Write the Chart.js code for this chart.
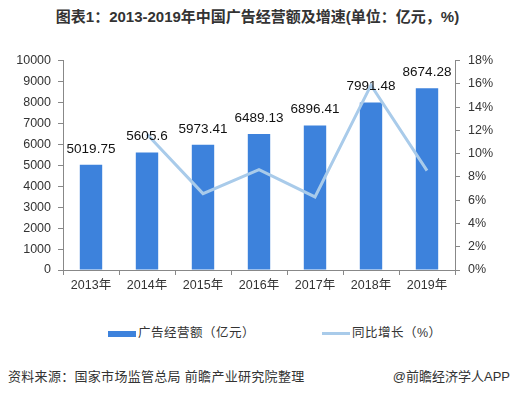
<!DOCTYPE html>
<html>
<head>
<meta charset="utf-8">
<script src="https://cdn.jsdelivr.net/npm/chart.js@4/dist/chart.umd.min.js"></script>
<style>
    body { margin: 0; width: 515px; height: 395px; background: #fff; position: relative; overflow: hidden;
        font-family: "Liberation Sans", "Noto Sans CJK SC", sans-serif; color: #333; }
    #titulo { position: absolute; top: 5px; left: 0; width: 515px; text-align: center;
        font-size: 15px; font-weight: bold; color: #333; }
    #marco { position: absolute; top: 45px; left: 0; width: 515px; height: 260px; }
    #leyenda { position: absolute; top: 322px; left: 0; width: 515px; font-size: 12.5px; color: #333; }
    .item { position: absolute; top: 0; white-space: nowrap; letter-spacing: 0.5px; }
    .muestra { display: inline-block; width: 28px; vertical-align: middle; margin-right: 2px; }
    #fuente { position: absolute; top: 366px; left: 8px; font-size: 13px; color: #333; letter-spacing: 0.3px; }
    #firma { position: absolute; top: 366px; right: 5px; font-size: 13px; color: #333; }
</style>
</head>
<body>
<div id="titulo">图表1：2013-2019年中国广告经营额及增速(单位：亿元，%)</div>
<div id="marco"><canvas id="grafica"></canvas></div>
<div id="leyenda"></div>
<div id="fuente">资料来源：国家市场监管总局 前瞻产业研究院整理</div>
<div id="firma">@前瞻经济学人APP</div>
<script>
(function () {
    var ANIOS = ['2013年', '2014年', '2015年', '2016年', '2017年', '2018年', '2019年'];
    var MONTOS = [5019.75, 5605.6, 5973.41, 6489.13, 6896.41, 7991.48, 8674.28];
    var CRECIMIENTO = [null, 11.67, 6.56, 8.63, 6.28, 15.88, 8.54];
    var ETIQUETA_BARRAS = '广告经营额（亿元）';
    var ETIQUETA_LINEA = '同比增长（%）';

    var AZUL = '#3d82dc';
    var CELESTE = '#a9cbea';
    var FUENTE = '"Liberation Sans", "Noto Sans CJK SC", sans-serif';

    // etiquetas de valor encima de cada barra (dataset 1 = barras)
    var etiquetasValor = {
        id: 'etiquetasValor',
        afterDatasetsDraw: function (chart) {
            var ctx = chart.ctx;
            var meta = chart.getDatasetMeta(1);

            ctx.save();
            ctx.font = '13.5px ' + FUENTE;
            ctx.fillStyle = '#111';
            ctx.textAlign = 'center';
            ctx.textBaseline = 'middle';
            meta.data.forEach(function (barra, i) {
                ctx.fillText(String(MONTOS[i]), barra.x, barra.y - 16);
            });
            ctx.restore();
        },
    };

    new Chart(document.getElementById('grafica'), {
        type: 'bar',
        data: {
            labels: ANIOS,
            datasets: [{
                type: 'line',
                label: ETIQUETA_LINEA,
                data: CRECIMIENTO,
                yAxisID: 'y1',
                borderColor: CELESTE,
                backgroundColor: CELESTE,
                borderWidth: 3,
                pointRadius: 0,
                tension: 0,
                order: 0,
            }, {
                label: ETIQUETA_BARRAS,
                data: MONTOS,
                yAxisID: 'y',
                backgroundColor: AZUL,
                categoryPercentage: 1,
                barPercentage: 0.4,
                order: 1,
            }],
        },
        options: {
            responsive: true,
            maintainAspectRatio: false,
            animation: false,
            layout: {padding: {top: 15, left: 0, right: 0, bottom: 0}},
            plugins: {
                legend: {display: false},
                tooltip: {enabled: false},
            },
            scales: {
                x: {
                    offset: true,
                    grid: {drawOnChartArea: false, drawTicks: true, tickLength: 5, color: '#888', offset: true},
                    border: {color: '#888'},
                    ticks: {color: '#333', font: {size: 12.5, family: FUENTE}, padding: 3},
                    afterFit: function (s) { s.height = 35; },
                },
                y: {
                    position: 'left',
                    min: 0,
                    max: 10000,
                    ticks: {
                        stepSize: 1000,
                        color: '#333',
                        font: {size: 12.5, family: FUENTE},
                        padding: 7,
                        callback: function (v) { return String(v); },
                    },
                    grid: {drawOnChartArea: false, drawTicks: true, tickLength: 5, color: '#888'},
                    border: {color: '#888'},
                    afterFit: function (s) { s.width = 63; },
                },
                y1: {
                    position: 'right',
                    min: 0,
                    max: 18,
                    ticks: {
                        stepSize: 2,
                        color: '#333',
                        font: {size: 12.5, family: FUENTE},
                        padding: 8,
                        callback: function (v) { return v + '%'; },
                    },
                    grid: {drawOnChartArea: false, drawTicks: true, tickLength: 5, color: '#888'},
                    border: {color: '#888'},
                    afterFit: function (s) { s.width = 60; },
                },
            },
        },
        plugins: [etiquetasValor],
    });

    // leyenda en html
    var leyenda = document.getElementById('leyenda');
    [
        {texto: ETIQUETA_BARRAS, color: AZUL, alto: 6, x: 108},
        {texto: ETIQUETA_LINEA, color: CELESTE, alto: 3, x: 322},
    ].forEach(function (it) {
        var d = document.createElement('div');
        d.className = 'item';
        d.style.left = it.x + 'px';
        var m = document.createElement('span');
        m.className = 'muestra';
        m.style.height = it.alto + 'px';
        m.style.background = it.color;
        d.appendChild(m);
        d.appendChild(document.createTextNode(it.texto));
        leyenda.appendChild(d);
    });
})();
</script>
</body>
</html>
